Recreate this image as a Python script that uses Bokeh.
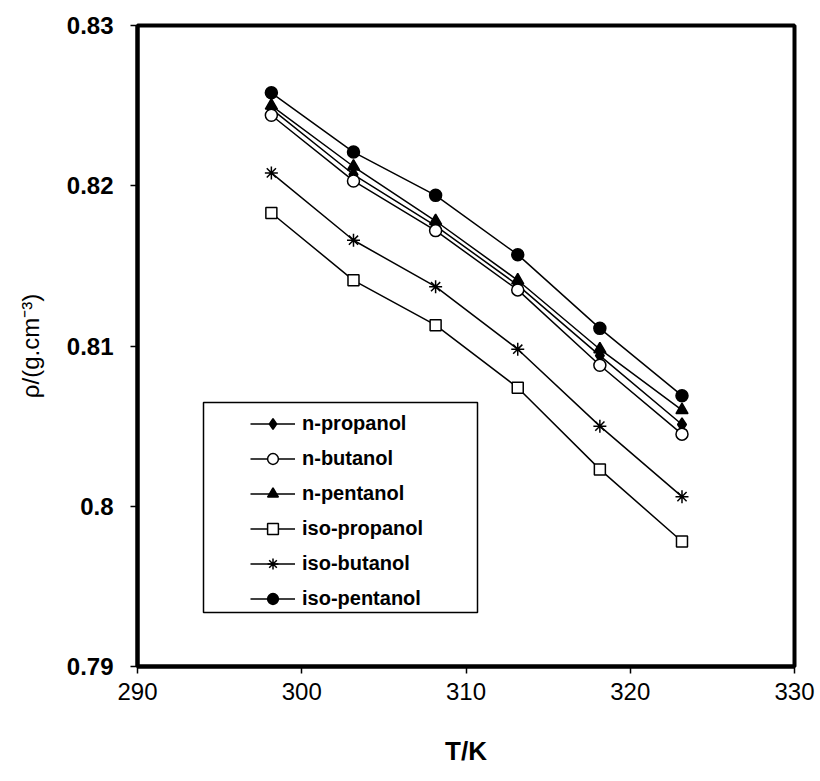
from bokeh.plotting import figure
from bokeh.models import Legend, LegendItem, FixedTicker, Range1d, BoxAnnotation
from bokeh.embed import file_html
from bokeh.resources import INLINE

# Temperatures (K) and densities (g/cm^3)
temperature = [298.15, 303.15, 308.15, 313.15, 318.15, 323.15]
n_propanol = [0.8248, 0.8207, 0.8175, 0.8138, 0.8094, 0.8051]
n_butanol = [0.8244, 0.8203, 0.8172, 0.8135, 0.8088, 0.8045]
n_pentanol = [0.8250, 0.8212, 0.8178, 0.8141, 0.8098, 0.8060]
iso_propanol = [0.8183, 0.8141, 0.8113, 0.8074, 0.8023, 0.7978]
iso_butanol = [0.8208, 0.8166, 0.8137, 0.8098, 0.8050, 0.8006]
iso_pentanol = [0.8258, 0.8221, 0.8194, 0.8157, 0.8111, 0.8069]

x_ticks = [290, 300, 310, 320, 330]
y_ticks = [0.79, 0.80, 0.81, 0.82, 0.83]
y_tick_labels = ["0.79", "0.8", "0.81", "0.82", "0.83"]

FONT = "Liberation Sans"
W, H = 820, 781
LEFT, RIGHT, TOP, BOTTOM = 137, 26, 25, 115
X0, X1, Y0, Y1 = 290, 330, 0.79, 0.83

p = figure(width=W, height=H, output_backend="svg", toolbar_location=None,
           x_range=Range1d(X0, X1), y_range=Range1d(Y0, Y1),
           min_border_left=LEFT, min_border_right=RIGHT, min_border_top=TOP,
           min_border_bottom=BOTTOM)
p.grid.visible = False
p.background_fill_color = "white"
p.border_fill_color = "white"
p.outline_line_color = "black"
p.outline_line_width = 4

for ax in (p.xaxis, p.yaxis):
    ax.axis_line_width = 4
    ax.major_tick_in = 0
    ax.major_tick_out = 7
    ax.major_tick_line_width = 1.5
    ax.minor_tick_line_color = None
    ax.major_label_text_font = FONT
    ax.major_label_text_color = "black"
    ax.axis_label_text_font = FONT
    ax.axis_label_text_color = "black"

p.xaxis.ticker = FixedTicker(ticks=x_ticks)
p.yaxis.ticker = FixedTicker(ticks=y_ticks)
p.yaxis.major_label_overrides = {t: s for t, s in zip(y_ticks, y_tick_labels)}
p.xaxis.major_label_overrides = {t: str(t) for t in x_ticks}

p.xaxis.major_label_text_font_size = "24px"
p.xaxis.major_label_text_font_style = "normal"
p.xaxis.major_label_standoff = 9
p.yaxis.major_label_text_font_size = "24px"
p.yaxis.major_label_text_font_style = "bold"
p.yaxis.major_label_standoff = 17

p.xaxis.axis_label = "T/K"
p.xaxis.axis_label_text_font_size = "26px"
p.xaxis.axis_label_text_font_style = "bold"
p.xaxis.axis_label_standoff = 33

p.yaxis.axis_label = "ρ/(g.cm⁻³)"
p.yaxis.axis_label_text_font_size = "24px"
p.yaxis.axis_label_text_font_style = "normal"
p.yaxis.axis_label_standoff = 20

series = [
    ("n-propanol", n_propanol, "diamond", "black", 13),
    ("n-butanol", n_butanol, "circle", "white", 12),
    ("n-pentanol", n_pentanol, "triangle", "black", 12),
    ("iso-propanol", iso_propanol, "square", "white", 11),
    ("iso-butanol", iso_butanol, "asterisk", "black", 13),
    ("iso-pentanol", iso_pentanol, "circle", "black", 12),
]

# Legend frame, placed in screen pixels and converted to data space
frame_w = W - LEFT - RIGHT
frame_h = H - TOP - BOTTOM
def px_to_x(px):
    return X0 + (px - LEFT) / frame_w * (X1 - X0)
def py_to_y(py):
    return Y1 - (py - TOP) / frame_h * (Y1 - Y0)

p.add_layout(BoxAnnotation(left=px_to_x(203), right=px_to_x(477),
                           top=py_to_y(402), bottom=py_to_y(612),
                           fill_color="white", fill_alpha=1,
                           line_color="black", line_alpha=1, line_width=1.5,
                           level="underlay"))

items = []
for name, vals, marker, fill, size in series:
    ln = p.line(temperature, vals, line_color="black", line_width=1.5)
    sc = p.scatter(temperature, vals, marker=marker, size=size,
                   fill_color=fill, line_color="black", line_width=1.5)
    items.append(LegendItem(label=name, renderers=[ln, sc]))

legend = Legend(items=items, location=(250 - LEFT, 54),
                border_line_color=None, background_fill_alpha=0,
                label_text_font=FONT, label_text_font_size="20px",
                label_text_font_style="bold",
                label_text_color="black", glyph_width=45, glyph_height=27,
                spacing=8, padding=0, margin=0, label_standoff=7)
p.add_layout(legend, "center")

open("out.html", "w").write(file_html(p, INLINE))
